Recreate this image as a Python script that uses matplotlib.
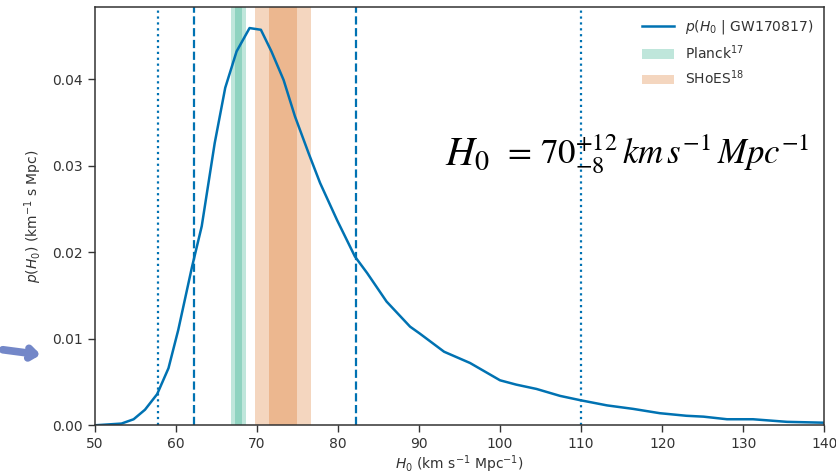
import matplotlib
matplotlib.use("Agg")
import matplotlib.pyplot as plt

# posterior on H0
h0 = [50, 53.3, 54.8, 56.2, 57.7, 59.1, 60.3, 62.0, 63.2, 64.8, 66.1, 67.5, 69.1, 70.5,
      71.8, 73.3, 74.7, 76.4, 77.8, 79.9, 82.1, 83.6, 86.0, 88.9, 90.1, 93.1, 96.3,
      100.0, 102.0, 104.5, 107.4, 109.9, 113.2, 116.4, 119.7, 123.0, 125.1, 128.0,
      131.2, 135.4, 140]
p_h0 = [0, 0.0002, 0.0007, 0.0018, 0.0036, 0.0066, 0.011, 0.0183, 0.023, 0.0326, 0.039,
        0.0432, 0.0459, 0.0457, 0.0432, 0.0399, 0.0357, 0.0314, 0.028, 0.0237, 0.0195,
        0.0176, 0.0143, 0.0114, 0.0106, 0.0085, 0.0072, 0.0052, 0.0047, 0.0042, 0.0034,
        0.0029, 0.0023, 0.0019, 0.0014, 0.0011, 0.001, 0.0007, 0.0007, 0.0004, 0.0003]

planck_mean, planck_sig = 67.74, 0.46
shoes_mean, shoes_sig = 73.24, 1.74
lim68 = [62.2, 82.2]
lim95 = [57.8, 110.0]

blue = "#0072b2"
green = "#009e73"
orange = "#d55e00"

fig = plt.figure(figsize=(8.36, 4.76), dpi=100)
ax = fig.add_axes([0.1133, 0.1065, 0.8727, 0.8782])

for k in (1, 2):
    ax.axvspan(planck_mean - k * planck_sig, planck_mean + k * planck_sig,
               color=green, alpha=0.25, lw=0, label="Planck$^{17}$" if k == 1 else None)
    ax.axvspan(shoes_mean - k * shoes_sig, shoes_mean + k * shoes_sig,
               color=orange, alpha=0.25, lw=0, label="SHoES$^{18}$" if k == 1 else None)

ax.plot(h0, p_h0, color=blue, lw=1.8, label=r"$p(H_0$ | GW170817)")
for v in lim68:
    ax.axvline(v, color=blue, ls="--", lw=1.6)
for v in lim95:
    ax.axvline(v, color=blue, ls=":", lw=1.6)

ax.set_xlim(50, 140)
ax.set_ylim(0, 0.0483)
ax.set_xticks(range(50, 141, 10))
ax.set_yticks([0, 0.01, 0.02, 0.03, 0.04])
ax.set_yticklabels(["0.00", "0.01", "0.02", "0.03", "0.04"])
ax.tick_params(labelsize=10, colors="#333333", length=5, width=1)
for s in ax.spines.values():
    s.set_color("#333333")
    s.set_linewidth(1.1)

ax.set_xlabel(r"$H_0$ (km s$^{-1}$ Mpc$^{-1}$)", fontsize=10, color="#333333", labelpad=2)
ax.set_ylabel(r"$p(H_0)$ (km$^{-1}$ s Mpc)", fontsize=10, color="#333333", labelpad=6)

h, l = ax.get_legend_handles_labels()
order = [l.index(r"$p(H_0$ | GW170817)"), l.index("Planck$^{17}$"), l.index("SHoES$^{18}$")]
ax.legend([h[i] for i in order], [l[i] for i in order], loc="upper right",
          frameon=False, fontsize=10, labelcolor="#333333", handlelength=2.3,
          borderaxespad=0.4)

ax.text(93.2, 0.0301, r"$H_0$", fontsize=29, math_fontfamily="stix",
        va="baseline", ha="left")
ax.text(100.3, 0.0301, r"$=\,70^{+12}_{-8}\,km\,s^{-1}\,Mpc^{-1}$", fontsize=25,
        math_fontfamily="stix", va="baseline", ha="left")

ax.annotate("", xy=(0.052, 0.254), xycoords="figure fraction",
            xytext=(0.0, 0.266), textcoords="figure fraction",
            arrowprops=dict(arrowstyle="->,head_length=0.45,head_width=0.35",
                            color="#7387c8", lw=5.5))

fig.savefig("out.png", dpi=100)
